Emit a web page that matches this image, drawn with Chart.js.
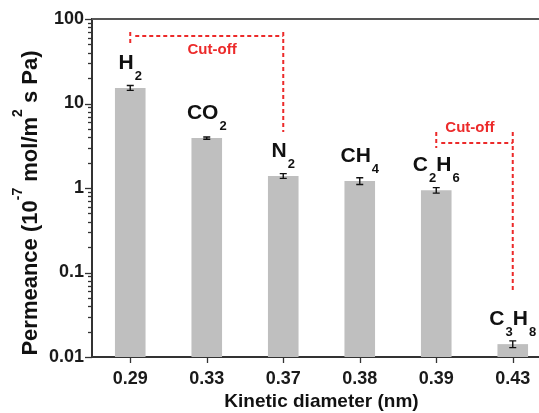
<!DOCTYPE html>
<html>
<head>
<meta charset="utf-8">
<script src="https://cdn.jsdelivr.net/npm/chart.js@4.4.1/dist/chart.umd.min.js"></script>
<style>
  html, body { margin: 0; padding: 0; background: #fff; overflow: hidden; }
</style>
</head>
<body>
<canvas id="permeanciaChart" width="560" height="413"></canvas>
<script>
// Dados
const diametros = ['0.29', '0.33', '0.37', '0.38', '0.39', '0.43'];
const gases = ['H_2', 'CO_2', 'N_2', 'CH_4', 'C_2H_6', 'C_3H_8'];
const permeancia = [15.3, 3.9, 1.39, 1.21, 0.94, 0.0142];
const erros = [1.0, 0.12, 0.09, 0.11, 0.07, 0.0013];
const yTicks = [0.01, 0.1, 1, 10, 100];
const yTickLabels = ['0.01', '0.1', '1', '10', '100'];

// Linhas de "Cut-off" (indices das categorias e niveis no eixo y)
const corteDe = [0, 4];
const corteAte = [2, 5];
const corteTopo = [70, 4.6];
const corteNivel = [63, 3.4];
const corteEsqBase = [49, 2.97];
const corteDirBase = [4.6, 0.062];
const corteTextoX = [1.07, 4.44];
const corteTextoY = [43, 5.1];
const corteTexto = 'Cut-off';

const FONTE = '"Liberation Sans", Arial, sans-serif';
const VERMELHO = '#ec2a2a';

// texto com subscrito: 'C_2H_6'
function partesFormula(f) {
  const partes = [];
  for (let i = 0; i < f.length; i++) {
    if (f[i] === '_') { partes.push([f[i + 1], true]); i++; }
    else partes.push([f[i], false]);
  }
  return partes;
}

const desenhos = {
  id: 'desenhos',
  afterDatasetsDraw(chart) {
    const { ctx, chartArea, scales: { x, y } } = chart;
    ctx.save();

    // borda superior
    ctx.strokeStyle = '#555';
    ctx.lineWidth = 2;
    ctx.beginPath();
    ctx.moveTo(chartArea.left, chartArea.top);
    ctx.lineTo(chartArea.right, chartArea.top);
    ctx.stroke();

    // marcas do eixo y (maiores e menores)
    ctx.strokeStyle = '#333';
    ctx.lineWidth = 1.3;
    yTicks.forEach((d, i) => {
      let py = Math.round(y.getPixelForValue(d)) + 0.5;
      ctx.beginPath();
      ctx.moveTo(chartArea.left - 7, py);
      ctx.lineTo(chartArea.left, py);
      ctx.stroke();
      if (i < yTicks.length - 1) {
        for (let k = 2; k <= 9; k++) {
          py = Math.round(y.getPixelForValue(d * k)) + 0.5;
          ctx.beginPath();
          ctx.moveTo(chartArea.left - 4, py);
          ctx.lineTo(chartArea.left, py);
          ctx.stroke();
        }
      }
    });

    // marcas do eixo x
    diametros.forEach((_, i) => {
      const px = Math.round(x.getPixelForValue(i)) + 0.5;
      ctx.beginPath();
      ctx.moveTo(px, chartArea.bottom);
      ctx.lineTo(px, chartArea.bottom + 6);
      ctx.stroke();
    });

    // barras de erro
    ctx.strokeStyle = '#111';
    ctx.lineWidth = 1.4;
    permeancia.forEach((v, i) => {
      const px = x.getPixelForValue(i);
      const yTop = y.getPixelForValue(v + erros[i]);
      const yBot = y.getPixelForValue(v - erros[i]);
      ctx.beginPath();
      ctx.moveTo(px, yTop); ctx.lineTo(px, yBot);
      ctx.moveTo(px - 3.5, yTop); ctx.lineTo(px + 3.5, yTop);
      ctx.moveTo(px - 3.5, yBot); ctx.lineTo(px + 3.5, yBot);
      ctx.stroke();
    });

    // nomes dos gases
    ctx.fillStyle = '#111';
    ctx.textBaseline = 'alphabetic';
    ctx.textAlign = 'left';
    gases.forEach((g, i) => {
      const partes = partesFormula(g);
      let total = 0;
      partes.forEach(([c, sub]) => {
        ctx.font = sub ? 'bold 13px ' + FONTE : 'bold 21px ' + FONTE;
        total += ctx.measureText(c).width + (sub ? 1 : 0);
      });
      let px = x.getPixelForValue(i) - total / 2;
      const base = y.getPixelForValue(permeancia[i]) - 19;
      partes.forEach(([c, sub]) => {
        ctx.font = sub ? 'bold 13px ' + FONTE : 'bold 21px ' + FONTE;
        if (sub) px += 1;
        ctx.fillText(c, px, sub ? base + 11 : base);
        px += ctx.measureText(c).width;
      });
    });

    // linhas de cut-off
    ctx.strokeStyle = VERMELHO;
    ctx.fillStyle = VERMELHO;
    ctx.lineWidth = 2;
    ctx.setLineDash([4, 3]);
    corteDe.forEach((de, i) => {
      const x1 = x.getPixelForValue(de);
      const x2 = x.getPixelForValue(corteAte[i]);
      const yt = y.getPixelForValue(corteTopo[i]);
      const yn = y.getPixelForValue(corteNivel[i]);
      ctx.beginPath();
      ctx.moveTo(x1, yt); ctx.lineTo(x1, y.getPixelForValue(corteEsqBase[i]));
      ctx.moveTo(x1 + 5, yn); ctx.lineTo(x2, yn);
      ctx.moveTo(x2, yt); ctx.lineTo(x2, y.getPixelForValue(corteDirBase[i]));
      ctx.stroke();
      ctx.font = 'bold 15px ' + FONTE;
      ctx.textAlign = 'center';
      ctx.textBaseline = 'middle';
      ctx.fillText(corteTexto, x.getPixelForValue(corteTextoX[i]), y.getPixelForValue(corteTextoY[i]));
    });
    ctx.setLineDash([]);

    // titulo do eixo x
    ctx.fillStyle = '#111';
    ctx.font = 'bold 19px ' + FONTE;
    ctx.textAlign = 'center';
    ctx.textBaseline = 'middle';
    ctx.fillText('Kinetic diameter (nm)', (chartArea.left + chartArea.right) / 2, 402);

    // titulo do eixo y com sobrescritos
    const partesY = [['Permeance (10', false], ['-7', true], [' mol/m', false], ['2', true], [' s Pa)', false]];
    ctx.save();
    ctx.translate(28, 203);
    ctx.rotate(-Math.PI / 2);
    ctx.textAlign = 'left';
    ctx.textBaseline = 'alphabetic';
    let total = 0;
    partesY.forEach(([t, sup]) => {
      ctx.font = sup ? 'bold 14px ' + FONTE : 'bold 22px ' + FONTE;
      total += ctx.measureText(t).width;
    });
    let px = -total / 2;
    partesY.forEach(([t, sup]) => {
      ctx.font = sup ? 'bold 14px ' + FONTE : 'bold 22px ' + FONTE;
      ctx.fillText(t, px, sup ? -6 : 9);
      px += ctx.measureText(t).width;
    });
    ctx.restore();

    ctx.restore();
  }
};

const ctx = document.getElementById('permeanciaChart').getContext('2d');
new Chart(ctx, {
  type: 'bar',
  data: {
    labels: diametros,
    datasets: [{
      data: permeancia,
      backgroundColor: '#bfbfbf',
      borderWidth: 0,
      barPercentage: 0.4,
      categoryPercentage: 1
    }]
  },
  options: {
    responsive: false,
    animation: false,
    layout: { padding: { top: 19, right: 9, left: 0, bottom: 0 } },
    plugins: { legend: { display: false }, tooltip: { enabled: false } },
    scales: {
      x: {
        grid: { display: true, drawOnChartArea: false, drawTicks: false },
        border: { color: '#333', width: 2 },
        ticks: { color: '#1a1a1a', font: { family: FONTE, size: 18, weight: 'bold' }, padding: 11, maxRotation: 0 },
        afterFit: s => { s.height = 56; }
      },
      y: {
        type: 'logarithmic',
        min: 0.01,
        max: 100,
        grid: { display: true, drawOnChartArea: false, drawTicks: false },
        border: { color: '#333', width: 2 },
        afterBuildTicks: s => { s.ticks = yTicks.map(v => ({ value: v })); },
        ticks: {
          autoSkip: false,
          padding: 8,
          color: '#1a1a1a',
          font: { family: FONTE, size: 18, weight: 'bold' },
          callback: v => {
            const i = yTicks.findIndex(t => Math.abs(t - v) / t < 1e-6);
            return i >= 0 ? yTickLabels[i] : '';
          }
        },
        afterFit: s => { s.width = 92; }
      }
    }
  },
  plugins: [desenhos]
});
</script>
</body>
</html>
